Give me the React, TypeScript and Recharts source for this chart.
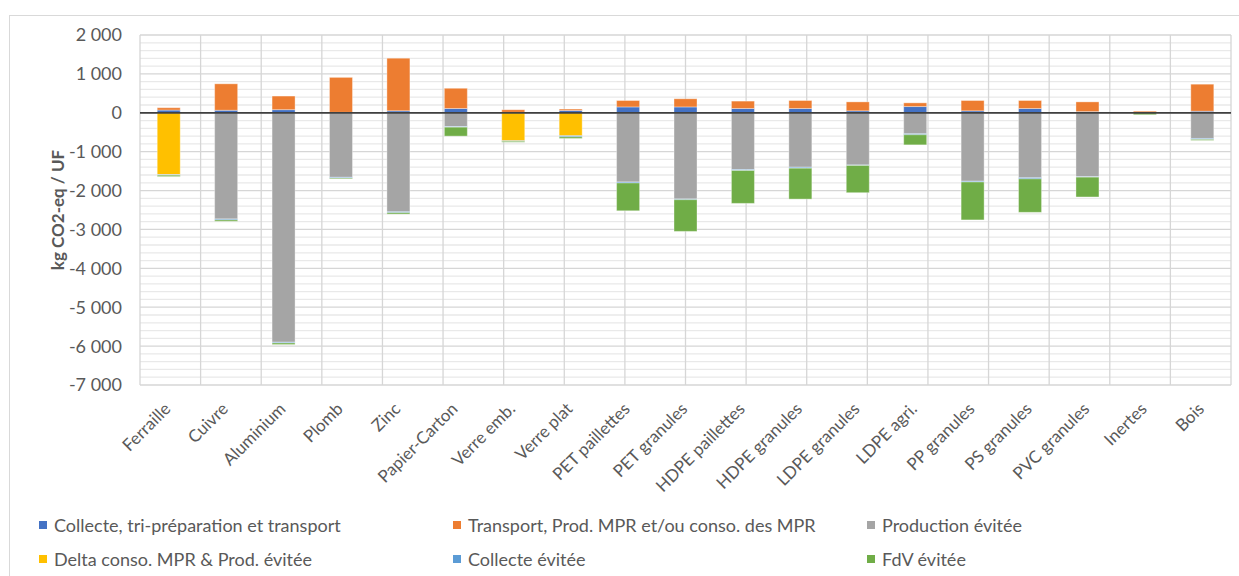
import React from 'react';
import { BarChart, Bar, XAxis, YAxis, CartesianGrid, ReferenceLine } from 'recharts';

// Material categories along the x axis
const categories = [
  'Ferraille', 'Cuivre', 'Aluminium', 'Plomb', 'Zinc', 'Papier-Carton', 'Verre emb.', 'Verre plat',
  'PET paillettes', 'PET granules', 'HDPE paillettes', 'HDPE granules', 'LDPE granules', 'LDPE agri.',
  'PP granules', 'PS granules', 'PVC granules', 'Inertes', 'Bois',
];

// kg CO2-eq / UF per stage
const collecte = [70, 65, 80, 10, 50, 110, 10, 60, 150, 150, 110, 110, 50, 160, 50, 110, 30, 5, 40];
const transport = [60, 680, 350, 900, 1355, 520, 70, 35, 165, 210, 190, 205, 230, 95, 265, 205, 250, 35, 695];
const productionEvitee = [0, -2730, -5900, -1660, -2545, -355, 0, 0, -1780, -2215, -1460, -1400, -1340, -540, -1760, -1670, -1645, 0, -660];
const deltaConso = [-1590, 0, 0, 0, 0, 0, -720, -590, 0, 0, 0, 0, 0, 0, 0, 0, 0, 0, 0];
const collecteEvitee = [-15, -25, -20, -20, -25, -15, -15, -30, -25, -20, -25, -25, -15, -25, -20, -30, -10, 0, -25];
const fdvEvitee = [-35, -35, -40, -20, -35, -230, -25, -40, -715, -815, -845, -795, -700, -260, -975, -860, -510, -50, -25];

// Axis ticks
const yTicks = [-7000, -6000, -5000, -4000, -3000, -2000, -1000, 0, 1000, 2000];
const yMinorTicks = [
  -6800, -6600, -6400, -6200, -5800, -5600, -5400, -5200, -4800, -4600, -4400, -4200,
  -3800, -3600, -3400, -3200, -2800, -2600, -2400, -2200, -1800, -1600, -1400, -1200,
  -800, -600, -400, -200, 200, 400, 600, 800, 1200, 1400, 1600, 1800,
];
const categoryEdges = [0, 1, 2, 3, 4, 5, 6, 7, 8, 9, 10, 11, 12, 13, 14, 15, 16, 17, 18, 19];

const series = [
  { key: 'collecte', name: 'Collecte, tri-préparation et transport', color: '#4472C4', values: collecte },
  { key: 'transport', name: 'Transport, Prod. MPR et/ou conso. des MPR', color: '#ED7D31', values: transport },
  { key: 'production', name: 'Production évitée', color: '#A5A5A5', values: productionEvitee },
  { key: 'delta', name: 'Delta conso. MPR & Prod. évitée', color: '#FFC000', values: deltaConso },
  { key: 'collecteEv', name: 'Collecte évitée', color: '#5B9BD5', values: collecteEvitee },
  { key: 'fdv', name: 'FdV évitée', color: '#70AD47', values: fdvEvitee },
];

const data = categories.map((name, i) => {
  const row: Record<string, string | number> = { name };
  series.forEach((s) => { row[s.key] = s.values[i]; });
  return row;
});

const FONT = 'Lato, "Open Sans", sans-serif';
const TEXT = '#595959';

const formatValue = (v: number) => {
  const abs = Math.abs(v);
  const s = abs >= 1000 ? `${Math.floor(abs / 1000)} ${String(abs % 1000).padStart(3, '0')}` : String(abs);
  return v < 0 ? `-${s}` : s;
};

const XTick = (props: any) => {
  const { x, y, payload } = props;
  const ax = x + 3;
  const ay = y + 25;
  return (
    <text x={ax} y={ay} transform={`rotate(-45, ${ax}, ${ay})`} textAnchor="end"
      fill={TEXT} fontSize={17} fontFamily={FONT}>
      {payload.value}
    </text>
  );
};

const legendCols = [39, 453, 867];
const legendRows = [525, 559];

export default function App() {
  return (
    <div style={{ position: 'absolute', left: 0, top: 0, width: 1239, height: 576, background: '#fff', overflow: 'hidden', fontFamily: FONT }}>
      <div style={{ position: 'absolute', left: 9, top: 15, width: 1300, height: 700, border: '1px solid #d9d9d9' }} />
      <div style={{ position: 'absolute', left: 0, top: 0 }}>
        <BarChart width={1239} height={576} data={data} stackOffset="sign" barCategoryGap="30%"
          margin={{ top: 35, right: 8, bottom: 0, left: 0 }}>
          <XAxis dataKey="name" height={191} interval={0} tickLine={false} axisLine={false}
            tickSize={0} tickMargin={0} tick={<XTick />} />
          <XAxis xAxisId="grid" type="number" domain={[0, 19]} ticks={categoryEdges} hide />
          <YAxis domain={[-7000, 2000]} ticks={yTicks} width={140} tickLine={false} axisLine={false}
            tickSize={0} tickMargin={18} tickFormatter={formatValue} interval={0}
            tick={{ fill: TEXT, fontSize: 18, fontFamily: FONT }} />
          {/* minor horizontal grid every 200 */}
          <CartesianGrid vertical={false} stroke="#e9e9e9" strokeWidth={1.3}
            horizontalValues={yMinorTicks} />
          <CartesianGrid xAxisId="grid" stroke="#d6d6d6" strokeWidth={1.3} />
          {series.map((s) => (
            <Bar key={s.key} dataKey={s.key} name={s.name} stackId="a" fill={s.color}
              stroke="rgba(255,255,255,0.35)" strokeWidth={1} isAnimationActive={false} />
          ))}
          <ReferenceLine y={0} stroke="#404040" strokeWidth={1.8} />
        </BarChart>
      </div>
      <div style={{
        position: 'absolute', left: 57, top: 210, transform: 'translate(-50%, -50%) rotate(-90deg)',
        whiteSpace: 'nowrap', fontWeight: 700, fontSize: 17, color: TEXT,
      }}>kg CO2-eq / UF</div>
      {series.map((s, i) => {
        const left = legendCols[i % 3];
        const top = legendRows[Math.floor(i / 3)];
        return (
          <div key={s.key} style={{ position: 'absolute', left, top, transform: 'translateY(-50%)', display: 'flex', alignItems: 'center', whiteSpace: 'nowrap' }}>
            <span style={{ display: 'inline-block', width: 8, height: 8, background: s.color, marginRight: 7 }} />
            <span style={{ fontSize: 18, color: TEXT, lineHeight: '20px' }}>{s.name}</span>
          </div>
        );
      })}
    </div>
  );
}
